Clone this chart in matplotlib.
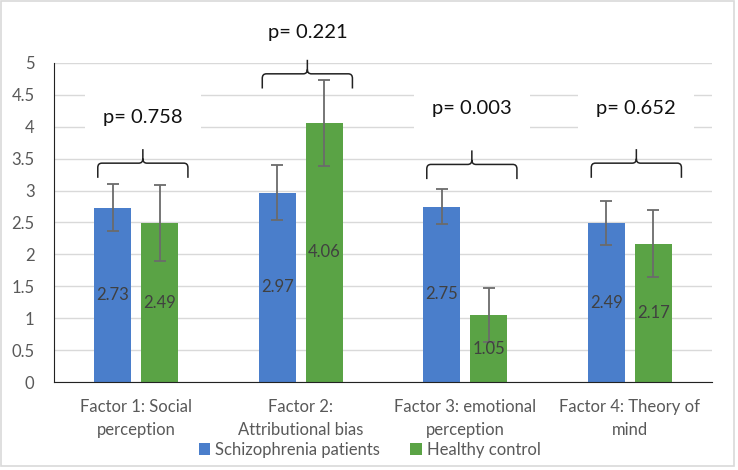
import numpy as np
import matplotlib
matplotlib.use("Agg")
import matplotlib.pyplot as plt
from matplotlib.path import Path
from matplotlib.patches import PathPatch, Rectangle

plt.rcParams['font.family'] = ['Lato', 'DejaVu Sans']

# ----------------------------
# Data
# ----------------------------
categories = ["Factor 1: Social\nperception", "Factor 2:\nAttributional bias",
              "Factor 3: emotional\nperception", "Factor 4: Theory of\nmind"]
patients = [2.73, 2.97, 2.75, 2.49]
patients_err = [0.37, 0.43, 0.27, 0.34]
controls = [2.49, 4.06, 1.05, 2.17]
controls_err = [0.59, 0.67, 0.43, 0.53]
p_values = ["p= 0.758", "p= 0.221", "p= 0.003", "p= 0.652"]

# annotation layout (brace: base level; p-text level)
brace_base = [3.43, 4.83, 3.41, 3.43]
text_level = [4.15, 5.47, 4.29, 4.29]

blue = "#4a7ecb"
green = "#5aa345"
gray_txt = "#595959"

fig = plt.figure(figsize=(7.38, 4.70), dpi=100)
ax = fig.add_axes([0.0732, 0.1872, 0.8916, 0.6788])

x = np.arange(len(categories))
w = 0.225
off = 0.142
ekw = dict(ecolor="#6b6b6b", elinewidth=1.3, capsize=4, capthick=1.3)
ax.bar(x - off, patients, w, yerr=patients_err, color=blue, error_kw=ekw,
       label="Schizophrenia patients", zorder=2)
ax.bar(x + off, controls, w, yerr=controls_err, color=green, error_kw=ekw,
       label="Healthy control", zorder=2)

# value labels, centred inside bars
for xi, v in zip(x - off, patients):
    ax.text(xi, v / 2, f"{v:.2f}", ha="center", va="center", fontsize=12,
            color="#404040", zorder=4)
for xi, v in zip(x + off, controls):
    ax.text(xi, v / 2, f"{v:.2f}", ha="center", va="center", fontsize=12,
            color="#404040", zorder=4)


def brace(xc, half, yh, drop=0.23, rise=0.22, rx=0.025, ry=0.07):
    x0, x1 = xc - half, xc + half
    verts = [(x0, yh - drop), (x0, yh - ry), (x0, yh), (x0 + rx, yh),
             (xc - rx, yh), (xc, yh), (xc, yh + ry), (xc, yh + rise),
             (xc, yh + ry), (xc, yh), (xc + rx, yh),
             (x1 - rx, yh), (x1, yh), (x1, yh - ry), (x1, yh - drop)]
    codes = [Path.MOVETO, Path.LINETO, Path.CURVE3, Path.CURVE3,
             Path.LINETO, Path.CURVE3, Path.CURVE3, Path.LINETO,
             Path.MOVETO, Path.CURVE3, Path.CURVE3,
             Path.LINETO, Path.CURVE3, Path.CURVE3, Path.LINETO]
    patch = PathPatch(Path(verts, codes), facecolor="none", edgecolor="#222222",
                      lw=1.1, clip_on=False, zorder=5)
    ax.add_patch(patch)


for i in range(len(categories)):
    xc = x[i] + 0.04
    brace(xc, 0.274, brace_base[i])
    ax.text(xc, text_level[i], p_values[i], ha="center", va="center",
            fontsize=14.5, color="#111111", clip_on=False, zorder=3,
            bbox=dict(facecolor="white", edgecolor="none", pad=13))

ax.set_xlim(-0.5, 3.5)
ax.set_ylim(0, 5)
ax.set_yticks(np.arange(0, 5.01, 0.5))
ax.set_yticklabels([f"{t:g}" for t in np.arange(0, 5.01, 0.5)])
ax.set_xticks(x)
ax.set_xticklabels(categories, linespacing=1.55)
ax.yaxis.grid(True, color="#d9d9d9", lw=1, zorder=0)
ax.set_axisbelow(True)
for s in ["top", "right"]:
    ax.spines[s].set_visible(False)
ax.spines["left"].set_color("#222222")
ax.spines["bottom"].set_color("#222222")
ax.tick_params(axis="both", length=0, labelsize=12, colors=gray_txt)
ax.tick_params(axis="x", pad=12)
ax.tick_params(axis="y", pad=14)

fig.legend(loc="center", bbox_to_anchor=(0.501, 0.043), ncol=2, frameon=False,
           fontsize=12, labelcolor=gray_txt, handlelength=0.7,
           handleheight=0.7, handletextpad=0.3, columnspacing=1.8)

fig.patches.append(Rectangle((0.002, 0.008), 0.993, 0.99, transform=fig.transFigure,
                             fill=False, edgecolor="#d9d9d9", lw=1.2))

fig.savefig("out.png", dpi=100)
